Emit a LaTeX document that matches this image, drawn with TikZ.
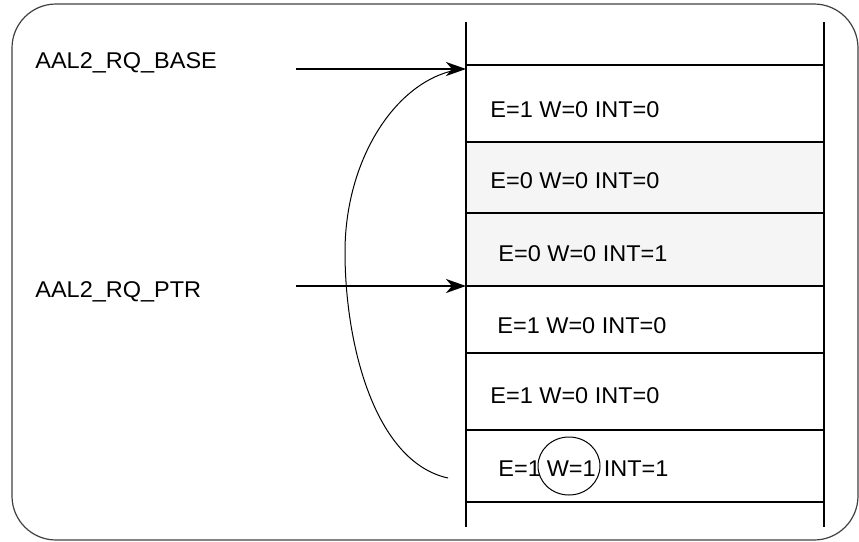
\documentclass[tikz,border=0pt]{standalone}
\usepackage{fontspec}
\setmainfont{Liberation Sans}[FakeStretch=1.03]
\usetikzlibrary{arrows.meta}
\begin{document}
\begin{tikzpicture}[x=0.5pt,y=-0.5pt,
  lbl/.style={anchor=base west,inner sep=0pt,font=\fontsize{11.4pt}{13pt}\selectfont},
  rowline/.style={line width=1pt},
  ptr/.style={line width=1pt,-{Stealth[length=10pt,width=7pt,inset=3pt]}},
  loopline/.style={line width=0.5pt},
  shade/.style={fill=black!4}]
\useasboundingbox (0,0) rectangle (859,542);
% outer frame
\draw[black!75,line width=0.6pt,rounded corners=22pt] (12,4) rectangle (858,540);
% shaded rows
\fill[shade] (466,142) rectangle (824,286);
% vertical lines
\draw[rowline] (466,22) -- (466,527);
\draw[rowline] (824,22) -- (824,527);
% row separators
\foreach \yy in {65,142,213,286,353,430,502}
  \draw[rowline] (466,\yy) -- (824,\yy);
% row texts
\node[lbl] (r1) at (490,117) {E=1 W=0 INT=0};
\node[lbl] (r2) at (490,188) {E=0 W=0 INT=0};
\node[lbl] (r3) at (498,261) {E=0 W=0 INT=1};
\node[lbl] (r4) at (497,333) {E=1 W=0 INT=0};
\node[lbl] (r5) at (490,403) {E=1 W=0 INT=0};
\node[lbl] (r6) at (498,476) {E=1\kern3pt W=1\kern4pt INT=1};
\draw[loopline] (569,466) ellipse [x radius=31, y radius=29];
% labels
\node[lbl] (base) at (35,68) {AAL2\_RQ\_BASE};
\node[lbl] (ptrl) at (35,297) {AAL2\_RQ\_PTR};
% arrows
\coordinate (bs) at (296,69);
\coordinate (bt) at (466,69);
\coordinate (ps) at (296,286);
\coordinate (pt) at (466,286);
\coordinate (cs) at (448,478);
\coordinate (cm) at (345,252);
\coordinate (ce) at (456,70);
\draw[ptr] (bs) -- (bt);
\draw[ptr] (ps) -- (pt);
\draw[loopline] (cs) .. controls (375,462) and (345,345) .. (cm)
  .. controls (345,160) and (395,82) .. (ce);
\end{tikzpicture}
\end{document}
